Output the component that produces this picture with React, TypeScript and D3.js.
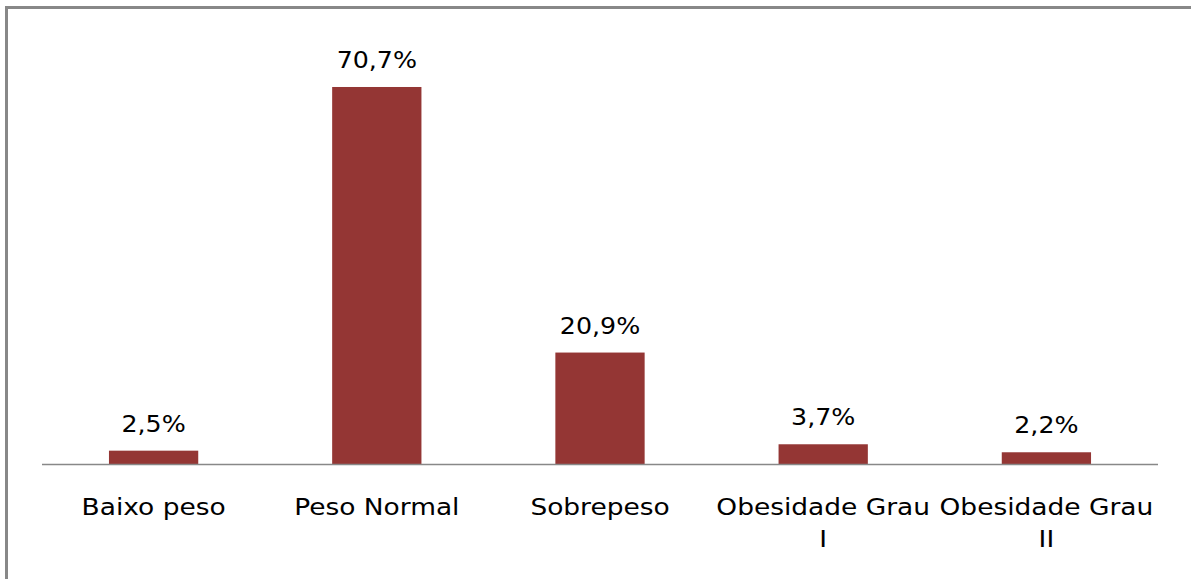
import React, { useEffect, useRef } from "react";
import * as d3 from "d3";

// BMI classification distribution (percent of sample)
const categories: string[] = [
  "Baixo peso",
  "Peso Normal",
  "Sobrepeso",
  "Obesidade Grau I",
  "Obesidade Grau II",
];
const values: number[] = [2.5, 70.7, 20.9, 3.7, 2.2];
const valueLabels: string[] = ["2,5%", "70,7%", "20,9%", "3,7%", "2,2%"];
const yDomain: [number, number] = [0, 80];

const W = 1191;
const H = 579;
const BAR_COLOR = "#943634";
const FONT = "'DejaVu Sans', Verdana, sans-serif";
const VALUE_STRETCH = 1.1;
const TICK_STRETCH = 1.15;

export default function App() {
  const ref = useRef<SVGSVGElement | null>(null);

  useEffect(() => {
    const svg = d3.select(ref.current);
    svg.selectAll("*").remove();

    const plot = { left: 42, right: 1158, top: 37.4, bottom: 464 };

    const x = d3
      .scaleBand<string>()
      .domain(categories)
      .range([plot.left, plot.right])
      .paddingInner(0.6)
      .paddingOuter(0.3);

    const y = d3.scaleLinear().domain(yDomain).range([plot.bottom, plot.top]);

    // chart frame (only top and left edges fall inside the page)
    svg
      .append("rect")
      .attr("x", 6.5)
      .attr("y", 7.5)
      .attr("width", W + 20)
      .attr("height", H + 20)
      .attr("fill", "#fff")
      .attr("stroke", "#888888")
      .attr("stroke-width", 3);

    const data = categories.map((c, i) => ({ c, v: values[i], label: valueLabels[i] }));

    svg
      .append("g")
      .selectAll("rect")
      .data(data)
      .join("rect")
      .attr("x", (d) => x(d.c)!)
      .attr("y", (d) => y(d.v))
      .attr("width", x.bandwidth())
      .attr("height", (d) => y(0) - y(d.v))
      .attr("fill", BAR_COLOR);

    // baseline axis
    svg
      .append("line")
      .attr("x1", plot.left)
      .attr("x2", plot.right)
      .attr("y1", y(0) + 0.5)
      .attr("y2", y(0) + 0.5)
      .attr("stroke", "#888888")
      .attr("stroke-width", 1.5);

    // value labels
    svg
      .append("g")
      .selectAll("g")
      .data(data)
      .join("g")
      .attr(
        "transform",
        (d) => `translate(${x(d.c)! + x.bandwidth() / 2},${y(d.v) - 19}) scale(${VALUE_STRETCH},1)`
      )
      .append("text")
      .attr("text-anchor", "middle")
      .attr("font-family", FONT)
      .attr("font-size", 23)
      .attr("fill", "#000")
      .text((d) => d.label);

    // category labels, wrapped to the band step
    const tickG = svg.append("g");
    const step = x.step();
    const maxLocal = (step - 4) / TICK_STRETCH;
    data.forEach((d) => {
      const cx = x(d.c)! + x.bandwidth() / 2;
      const text = tickG
        .append("g")
        .attr("transform", `translate(${cx},515) scale(${TICK_STRETCH},1)`)
        .append("text")
        .attr("text-anchor", "middle")
        .attr("font-family", FONT)
        .attr("font-size", 23)
        .attr("fill", "#000");
      const words = d.c.split(/\s+/);
      let line: string[] = [];
      let lineNo = 0;
      let tspan = text.append("tspan").attr("x", 0).attr("y", 0);
      words.forEach((w) => {
        line.push(w);
        tspan.text(line.join(" "));
        const node = tspan.node() as SVGTSpanElement;
        if (node.getComputedTextLength() > maxLocal && line.length > 1) {
          line.pop();
          tspan.text(line.join(" "));
          line = [w];
          lineNo += 1;
          tspan = text
            .append("tspan")
            .attr("x", 0)
            .attr("y", lineNo * 32)
            .text(w);
        }
      });
    });
  }, []);

  return (
    <svg
      ref={ref}
      width={W}
      height={H}
      style={{ position: "absolute", left: 0, top: 0, background: "#fff" }}
    />
  );
}
